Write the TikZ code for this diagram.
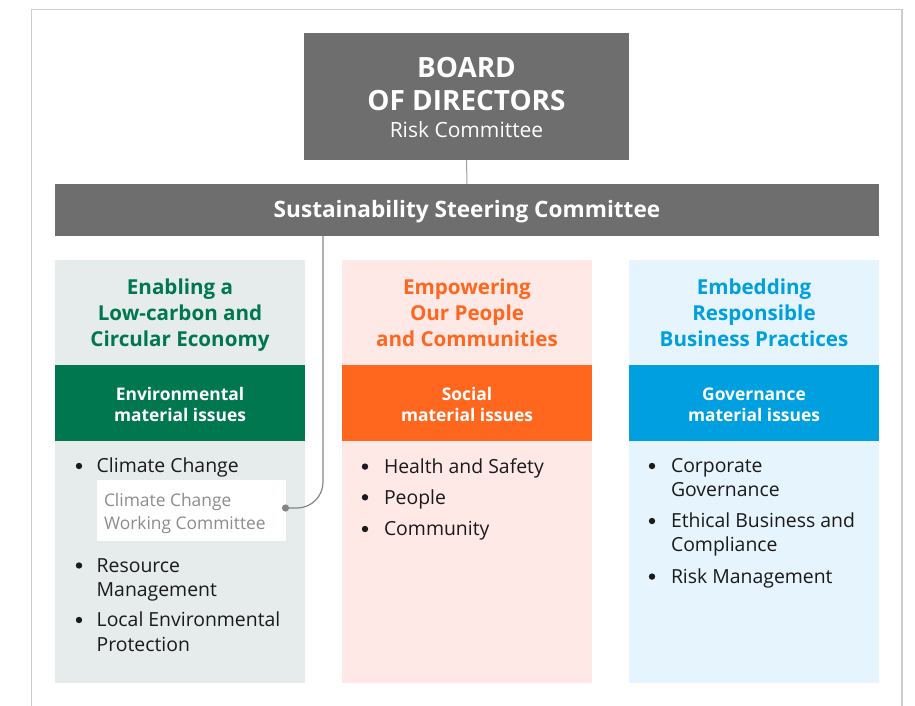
\documentclass[tikz,border=0pt]{standalone}
\usepackage{fontspec}
\setmainfont{Open Sans}
\definecolor{boardgray}{HTML}{6E6E6E}
\definecolor{envgreen}{HTML}{00774F}
\definecolor{envbg}{HTML}{E6ECEB}
\definecolor{socorange}{HTML}{FF671F}
\definecolor{socbg}{HTML}{FEE9E6}
\definecolor{govblue}{HTML}{009FE0}
\definecolor{govbg}{HTML}{E6F4FD}
\definecolor{framegray}{HTML}{CCCCCC}
\definecolor{linegray}{HTML}{A0A0A0}
\definecolor{conngray}{HTML}{858585}
\definecolor{wboxtext}{HTML}{8C8C8C}
\definecolor{bodytext}{HTML}{1A1A1A}
\newcommand\fsz[2]{\fontsize{#1}{#2}\selectfont}
\begin{document}
\begin{tikzpicture}[x=1pt,y=-1pt,
  box/.style={inner sep=0pt, outer sep=0pt, anchor=north west, draw=none},
  ln/.style={anchor=base, inner sep=0pt, outer sep=0pt},
  lnw/.style={anchor=base west, inner sep=0pt, outer sep=0pt},
  bigtxt/.style={font=\bfseries\fsz{27.9}{32}, text=white},
  subtxt/.style={font=\fsz{21}{26}, text=white},
  steertxt/.style={font=\bfseries\fsz{22.6}{26}, text=white},
  titletxt/.style={font=\bfseries\fsz{20.6}{27}},
  headtxt/.style={font=\bfseries\fsz{17.4}{21}, text=white},
  bodytxt/.style={font=\fsz{19.4}{24}, text=bodytext},
  wtxt/.style={font=\fsz{17.4}{22}, text=wboxtext},
  bul/.style={fill=bodytext},
  frame/.style={draw=framegray, line width=1.4pt},
  thinline/.style={draw=linegray, line width=1pt},
  conn/.style={draw=conngray, line width=1.2pt}
]
\useasboundingbox (0,0) rectangle (915,706);
\draw[frame] (31.5,706) -- (31.5,9.5) -- (902,9.5) -- (902,706);

% board
\node[box, fill=boardgray, minimum width=325pt, minimum height=127pt] (board) at (304,33) {};
\node[ln, bigtxt] (b1) at (466.5,77.3) {BOARD};
\node[ln, bigtxt] (b2) at (466.5,110.7) {OF DIRECTORS};
\node[ln, subtxt] (b3) at (466.5,137.3) {Risk Committee};

% steering
\node[box, fill=boardgray, minimum width=824pt, minimum height=52pt] (steer) at (55,184) {};
\node[ln, steertxt] (s1) at (467,217) {Sustainability Steering Committee};
\draw[thinline] (board.south) -- (steer.north);

% columns
\node[box, fill=envbg, minimum width=250pt, minimum height=422.5pt] (col1) at (55,260) {};
\node[box, fill=socbg, minimum width=250pt, minimum height=422.5pt] (col2) at (342,260) {};
\node[box, fill=govbg, minimum width=250pt, minimum height=422.5pt] (col3) at (629,260) {};
\node[box, fill=envgreen, minimum width=250pt, minimum height=75.5pt] (hd1) at (55,365) {};
\node[box, fill=socorange, minimum width=250pt, minimum height=75.5pt] (hd2) at (342,365) {};
\node[box, fill=govblue, minimum width=250pt, minimum height=75.5pt] (hd3) at (629,365) {};

% titles
\node[ln, titletxt, text=envgreen] (t1a) at (180,294) {Enabling a};
\node[ln, titletxt, text=envgreen] (t1b) at (180,320.7) {Low-carbon and};
\node[ln, titletxt, text=envgreen] (t1c) at (180,346.7) {Circular Economy};
\node[ln, titletxt, text=socorange] (t2a) at (467,294) {Empowering};
\node[ln, titletxt, text=socorange] (t2b) at (467,320.7) {Our People};
\node[ln, titletxt, text=socorange] (t2c) at (467,346.7) {and Communities};
\node[ln, titletxt, text=govblue] (t3a) at (754,294) {Embedding};
\node[ln, titletxt, text=govblue] (t3b) at (754,320.7) {Responsible};
\node[ln, titletxt, text=govblue] (t3c) at (754,346.7) {Business Practices};

% headers
\node[ln, headtxt] (h1a) at (180,400.7) {Environmental};
\node[ln, headtxt] (h1b) at (180,421) {material issues};
\node[ln, headtxt] (h2a) at (467,400.7) {Social};
\node[ln, headtxt] (h2b) at (467,421) {material issues};
\node[ln, headtxt] (h3a) at (754,400.7) {Governance};
\node[ln, headtxt] (h3b) at (754,421) {material issues};

% column 1 items
\fill[bul] (79,466) circle (3.2pt);
\node[lnw, bodytxt] (e1) at (96.7,472.7) {Climate Change};
\node[box, fill=white, minimum width=189pt, minimum height=61pt] (wbox) at (97,480) {};
\node[lnw, wtxt] (w1) at (104,506.7) {Climate Change};
\node[lnw, wtxt] (w2) at (104,529.3) {Working Committee};
\fill[bul] (79,565.5) circle (3.2pt);
\node[lnw, bodytxt] (e2a) at (96.7,572.3) {Resource};
\node[lnw, bodytxt] (e2b) at (96.7,596) {Management};
\fill[bul] (79,620) circle (3.2pt);
\node[lnw, bodytxt] (e3a) at (96.7,626.7) {Local Environmental};
\node[lnw, bodytxt] (e3b) at (96.7,651) {Protection};

% connector from steering committee to working committee
\coordinate (dotpt) at (285.5,508);
\draw[conn, rounded corners=26pt] (323,0 |- steer.south) |- (dotpt);
\fill[conngray] (dotpt) circle (3.6pt);

% column 2 items
\fill[bul] (365,466.6) circle (3.2pt);
\node[lnw, bodytxt] (s1i) at (384,473.3) {Health and Safety};
\fill[bul] (365,497.3) circle (3.2pt);
\node[lnw, bodytxt] (s2i) at (384,504) {People};
\fill[bul] (365,529) circle (3.2pt);
\node[lnw, bodytxt] (s3i) at (384,535.7) {Community};

% column 3 items
\fill[bul] (652,466) circle (3.2pt);
\node[lnw, bodytxt] (g1a) at (671,472.7) {Corporate};
\node[lnw, bodytxt] (g1b) at (671,496.7) {Governance};
\fill[bul] (652,521) circle (3.2pt);
\node[lnw, bodytxt] (g2a) at (671,527.7) {Ethical Business and};
\node[lnw, bodytxt] (g2b) at (671,551.7) {Compliance};
\fill[bul] (652,576.6) circle (3.2pt);
\node[lnw, bodytxt] (g3) at (671,583.3) {Risk Management};
\end{tikzpicture}
\end{document}
